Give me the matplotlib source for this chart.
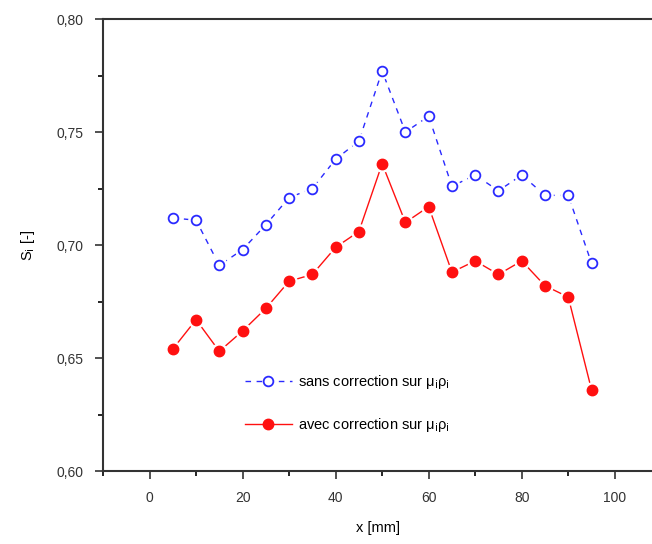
import matplotlib
matplotlib.use("Agg")
import matplotlib.pyplot as plt
from matplotlib.ticker import MultipleLocator, FuncFormatter

plt.rcParams['font.family'] = ['Liberation Sans', 'DejaVu Sans']

# ============================
# DATA
# ============================
x_mm = [5, 10, 15, 20, 25, 30, 35, 40, 45, 50,
        55, 60, 65, 70, 75, 80, 85, 90, 95]

s_sans = [0.712, 0.711, 0.691, 0.698, 0.709, 0.721, 0.725, 0.738, 0.746, 0.777,
          0.750, 0.757, 0.726, 0.731, 0.724, 0.731, 0.722, 0.722, 0.692]

s_avec = [0.654, 0.667, 0.653, 0.662, 0.672, 0.684, 0.687, 0.699, 0.706, 0.736,
          0.710, 0.717, 0.688, 0.693, 0.687, 0.693, 0.682, 0.677, 0.636]

label_sans = r"sans correction sur μ$_\mathrm{i}$ρ$_\mathrm{i}$"
label_avec = r"avec correction sur μ$_\mathrm{i}$ρ$_\mathrm{i}$"

# ============================
# DRAW
# ============================
fig = plt.figure(figsize=(6.52, 5.44), dpi=100)
ax = fig.add_axes([0.158, 0.134, 0.842, 0.831])

blue = "#2a2aff"
red = "#ff1010"

# lines first, then a white halo so the lines stop short of the markers
ax.plot(x_mm, s_sans, color=blue, lw=1.0, ls=(0, (4, 4)), zorder=1)
ax.plot(x_mm, s_avec, color=red, lw=1.0, zorder=1)
ax.scatter(x_mm, s_sans, s=120, color="white", zorder=2)
ax.scatter(x_mm, s_avec, s=120, color="white", zorder=2)
ax.plot(x_mm, s_sans, ls="none", marker="o", ms=7, mfc="white", mec=blue,
        mew=1.3, zorder=3)
ax.plot(x_mm, s_avec, ls="none", marker="o", ms=7.5, mfc=red, mec=red, zorder=3)

# legend handles
ax.plot([], [], color=blue, lw=1.0, ls=(0, (4, 4)), marker="o", ms=7,
        mfc="white", mec=blue, mew=1.3, label=label_sans)
ax.plot([], [], color=red, lw=1.0, marker="o", ms=7.5, mfc=red, mec=red,
        label=label_avec)
ax.legend(loc="upper left", bbox_to_anchor=(0.235, 0.245), frameon=False,
          fontsize=10.5, handlelength=3.2, handletextpad=0.4, labelspacing=1.7)

# ============================
# AXES STYLE
# ============================
ax.set_xlim(-10, 108)
ax.set_ylim(0.60, 0.80)
ax.xaxis.set_major_locator(MultipleLocator(20))
ax.xaxis.set_minor_locator(MultipleLocator(10))
ax.yaxis.set_major_locator(MultipleLocator(0.05))
ax.yaxis.set_minor_locator(MultipleLocator(0.025))
ax.yaxis.set_major_formatter(FuncFormatter(lambda v, p: f"{v:.2f}".replace(".", ",")))

ax.tick_params(which="major", direction="out", length=6, width=1.2,
               labelsize=10, colors="#333333", pad=8)
ax.tick_params(which="minor", direction="out", length=3.5, width=1.2)
ax.spines["right"].set_visible(False)
for side in ["left", "bottom", "top"]:
    ax.spines[side].set_linewidth(1.5)
    ax.spines[side].set_color("#333333")

ax.set_xlabel("x [mm]", fontsize=10.5, labelpad=12)
ax.set_ylabel(r"S$_\mathrm{i}$ [-]", fontsize=10.5, labelpad=14)

fig.savefig("out.png", dpi=100)
